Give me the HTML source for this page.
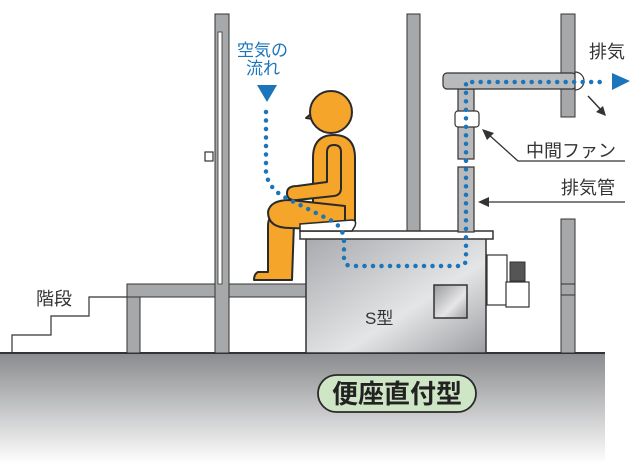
<!DOCTYPE html>
<html><head><meta charset="utf-8"><style>
html,body{margin:0;padding:0;background:#fff;width:633px;height:464px;overflow:hidden}
text{font-family:"Liberation Sans","Noto Sans CJK JP",sans-serif}
</style></head><body>
<svg width="633" height="464" viewBox="0 0 633 464" xmlns="http://www.w3.org/2000/svg">
<defs>
<linearGradient id="gnd" x1="0" y1="0" x2="0" y2="1">
<stop offset="0" stop-color="#8a8b8e"/><stop offset="1" stop-color="#ffffff"/></linearGradient>
<linearGradient id="box" x1="0" y1="0" x2="1" y2="1">
<stop offset="0" stop-color="#a9aaad"/><stop offset="0.6" stop-color="#e4e5e7"/><stop offset="1" stop-color="#9d9ea1"/></linearGradient>
<linearGradient id="win" x1="0" y1="0" x2="1" y2="1">
<stop offset="0" stop-color="#9a9b9e"/><stop offset="0.6" stop-color="#e6e6e8"/><stop offset="1" stop-color="#a0a1a4"/></linearGradient>
</defs>
<rect x="0" y="353" width="605" height="111" fill="url(#gnd)"/>
<line x1="0" y1="353" x2="605" y2="353" stroke="#333" stroke-width="2"/>
<polyline points="12,353 12,335 51,335 51,316 89,316 89,297 127,297" fill="none" stroke="#333" stroke-width="1.2"/>
<text x="36" y="305" font-size="18" fill="#333">階段</text>
<rect x="127" y="284" width="180" height="13" fill="#a7a8aa" stroke="#333" stroke-width="1"/>
<rect x="127" y="297" width="13" height="56" fill="#a7a8aa" stroke="#333" stroke-width="1"/>
<rect x="215" y="14" width="14" height="339" fill="#a7a8aa" stroke="#333" stroke-width="1"/>
<rect x="218" y="32" width="4" height="252" fill="#fff" stroke="#333" stroke-width="0.8"/>
<rect x="205" y="152" width="8" height="9" fill="#fff" stroke="#333" stroke-width="1.2"/>
<rect x="407" y="14" width="13" height="218" fill="#a7a8aa" stroke="#333" stroke-width="1"/>
<rect x="561" y="14" width="14" height="103" fill="#a7a8aa" stroke="#333" stroke-width="1"/>
<rect x="561" y="219" width="14" height="134" fill="#a7a8aa" stroke="#333" stroke-width="1"/>
<line x1="561" y1="284" x2="575" y2="284" stroke="#333"/><line x1="561" y1="295" x2="575" y2="295" stroke="#333"/>
<rect x="306" y="238" width="180" height="115" fill="url(#box)" stroke="#333" stroke-width="1.5"/>
<rect x="300" y="231" width="193" height="8" fill="#fff" stroke="#333" stroke-width="1.5"/>
<rect x="434" y="285" width="33" height="33" fill="url(#win)" stroke="#333" stroke-width="1.5"/>
<text x="365" y="324" font-size="17" fill="#333">S型</text>
<rect x="487" y="255" width="20" height="50" fill="#fff" stroke="#333" stroke-width="1.2"/>
<rect x="510" y="262" width="15" height="19" fill="#555" stroke="#333" stroke-width="1"/>
<rect x="506" y="282" width="23" height="25" fill="#fff" stroke="#333" stroke-width="1.2"/>
<rect x="458" y="89" width="16" height="70" fill="#b9babc" stroke="#333" stroke-width="1.2"/>
<rect x="458" y="167" width="16" height="65" fill="#b9babc" stroke="#333" stroke-width="1.2"/>
<rect x="443" y="73" width="133" height="16" rx="4" fill="#b9babc" stroke="#333" stroke-width="1.2"/>
<rect x="455" y="111" width="24" height="16" rx="3" fill="#fff" stroke="#333" stroke-width="1.2"/>
<path d="M575,72 A9,9 0 0 1 575,90 Z" fill="#fff" stroke="#333" stroke-width="1.2"/>
<g fill="#f5a52a" stroke="#2a2a2a" stroke-width="2" stroke-linejoin="round">
<path d="M312,113 L306,118 L313,119 Z"/>
<circle cx="331" cy="112" r="21"/>
<path d="M313,225 L313,158 Q313,135 334,135 Q355,135 355,158 L355,222 Q355,230 345,230 Z"/>
<path d="M300,222 L278,216 Q268,214 268,226 L268,272 L258,272 Q254,274 254,280 L292,280 L294,222 Z"/>
<path d="M268,212 Q270,200 290,200 L345,206 L345,230 L290,228 Q268,228 268,212 Z"/>
<path d="M327,152 Q327,145 334,145 Q341,145 341,152 L341,188 Q341,195 334,196 L297,200 Q287,201 287,193 Q287,186 297,186 L327,182 Z"/>
</g>
<path d="M300,231 L300,224 L352,220 Q357,220 355,226 L352,231 Z" fill="#fff" stroke="#2a2a2a" stroke-width="1.5"/>
<path d="M266,112 L266,172 Q268,190 290,200 L330,220 Q343,226 344,240 L344,258 Q344,266 352,266 L460,266 Q466,266 466,258 L466,82 L600,82" fill="none" stroke="#1b75bb" stroke-width="4.5" stroke-linecap="round" stroke-dasharray="0 8.5"/>
<polygon points="257,85 277,85 267,102" fill="#1b75bb"/>
<polygon points="612,73 630,81 612,90" fill="#1b75bb"/>
<text x="237" y="56" font-size="17" fill="#1b75bb">空気の</text>
<text x="246" y="74" font-size="17" fill="#1b75bb">流れ</text>
<text x="589" y="58" font-size="18" fill="#333">排気</text>
<line x1="588" y1="96" x2="602" y2="111" stroke="#333" stroke-width="1.5"/>
<polygon points="606,116 596,112 603,106" fill="#333"/>
<polyline points="488,134 518,161 625,161" fill="none" stroke="#333" stroke-width="1.3"/>
<polygon points="482,129 494,133 487,140" fill="#333"/>
<text x="526" y="157" font-size="18" fill="#333">中間ファン</text>
<line x1="486" y1="202" x2="625" y2="202" stroke="#333" stroke-width="1.3"/>
<polygon points="478,202 489,197 489,207" fill="#333"/>
<text x="561" y="194" font-size="18" fill="#333">排気管</text>
<rect x="318" y="375" width="158" height="37" rx="18.5" fill="#cfe6c6" stroke="#2a2a2a" stroke-width="1.8"/>
<text x="397" y="403" font-size="26" font-weight="bold" fill="#222" text-anchor="middle">便座直付型</text>
</svg>
</body></html>
